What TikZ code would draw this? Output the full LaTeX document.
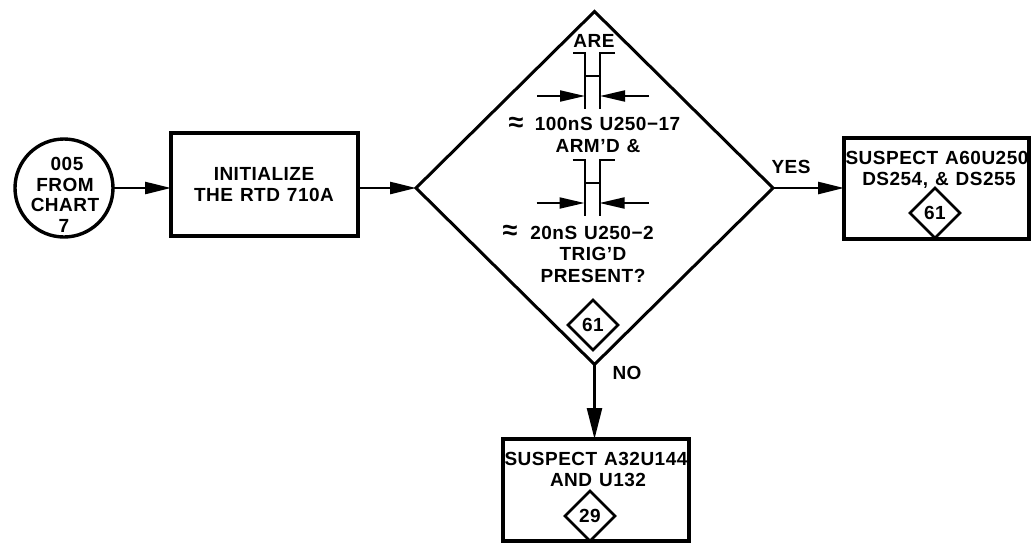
\documentclass[tikz,border=0pt]{standalone}
\usepackage{fontspec}
\setmainfont[LetterSpace=2.6,WordSpace=1.2,BoldFont={Liberation Sans Bold}]{Liberation Sans}
\newfontfamily\blobfont{Liberation Sans Bold}
\usetikzlibrary{shapes.geometric,arrows.meta}
\tikzset{
  lbl/.style={inner sep=0pt,font=\bfseries\fontsize{19}{21}\selectfont},
  thickbox/.style={draw,line width=3.8pt,rectangle,inner sep=0pt,outer sep=0pt},
  decision/.style={draw,line width=3pt,diamond,shape aspect=1,inner sep=0pt,outer sep=0pt},
  refdia/.style={draw,line width=2.8pt,diamond,shape aspect=1,inner sep=0pt,outer sep=0pt,minimum width=50pt,minimum height=50pt,font=\bfseries\fontsize{19}{21}\selectfont},
  flow/.style={line width=2.5pt,-{Triangle[length=26pt,width=12pt]}},
  flowlong/.style={line width=2.5pt,-{Triangle[length=31pt,width=15pt]}},
  squeeze/.style={line width=2pt,-{Triangle[length=25pt,width=11pt]}},
  approx/.style={inner sep=0pt,font=\blobfont\fontsize{27}{27}\selectfont},
  pics/pulse/.style={code={
    \coordinate (lt) at (-20,0);
    \coordinate (l) at (-8,0);
    \coordinate (r) at (7,0);
    \coordinate (rt) at (22,0);
    \coordinate (lb) at (-8,56);
    \coordinate (rb) at (7,56);
    \coordinate (lc) at (-8,23);
    \coordinate (rc) at (7,23);
    \coordinate (la) at (-8,43);
    \coordinate (ra) at (7,43);
    \coordinate (lf) at (-56,43);
    \coordinate (rf) at (56,43);
    \draw[line width=2pt] (lt) -- (l) -- (lb);
    \draw[line width=2pt] (rt) -- (r) -- (rb);
    \draw[line width=2pt] (lc) -- (rc);
    \draw[squeeze] (lf) -- (la);
    \draw[squeeze] (rf) -- (ra);
  }}
}
\begin{document}
\begin{tikzpicture}[x=1pt,y=-1pt]
\useasboundingbox (0,0) rectangle (1032,543);
\node[draw,circle,line width=3.4pt,inner sep=0pt,outer sep=0pt,minimum size=98pt] (src) at (64,188) {};
\node[thickbox,minimum width=187pt,minimum height=103pt] (init) at (264.5,184.5) {};
\node[decision,minimum width=357pt,minimum height=353pt] (dec) at (594.5,188) {};
\node[thickbox,minimum width=185pt,minimum height=101pt] (rbox) at (936.5,188.5) {};
\node[thickbox,minimum width=186pt,minimum height=102pt] (bbox) at (596,490) {};
\draw[flow] (src.east) -- (init.west |- src.east);
\draw[flow] (init.east |- dec.west) -- (dec.west);
\draw[flow] (dec.east) -- (rbox.west |- dec.east);
\draw[flowlong] (dec.south) -- (bbox.north -| dec.south);
\node[lbl] (t1) at (67,164) {005};
\node[lbl] (t2) at (65,185) {FROM};
\node[lbl] (t3) at (65,205) {CHART};
\node[lbl] (t4) at (64,226) {7};
\node[lbl] (t5) at (264,174) {INITIALIZE};
\node[lbl] (t6) at (264,195) {THE RTD 710A};
\node[lbl] (t7) at (594,41) {ARE};
\pic (pa) at (593,53) {pulse};
\node[approx] (a1) at (516,124) {≈};
\node[lbl] (t8) at (607.5,124) {100nS U250−17};
\node[lbl] (t9) at (598,146) {ARM'D \&};
\pic (pb) at (592.5,160) {pulse};
\node[approx] (a2) at (510,232) {≈};
\node[lbl] (t10) at (592,233) {20nS U250−2};
\node[lbl] (t11) at (593,254) {TRIG'D};
\node[lbl] (t12) at (593,276) {PRESENT?};
\node[refdia] (d1) at (593,325) {61};
\node[lbl] (t13) at (791,167) {YES};
\node[lbl] (t14) at (627,373) {NO};
\node[lbl] (t15) at (937,158) {SUSPECT A60U250};
\node[lbl] (t16) at (939,180) {DS254, \& DS255};
\node[refdia] (d2) at (935,213) {61};
\node[lbl] (t17) at (596,459) {SUSPECT A32U144};
\node[lbl] (t18) at (598,480) {AND U132};
\node[refdia] (d3) at (590,516) {29};
\end{tikzpicture}
\end{document}
